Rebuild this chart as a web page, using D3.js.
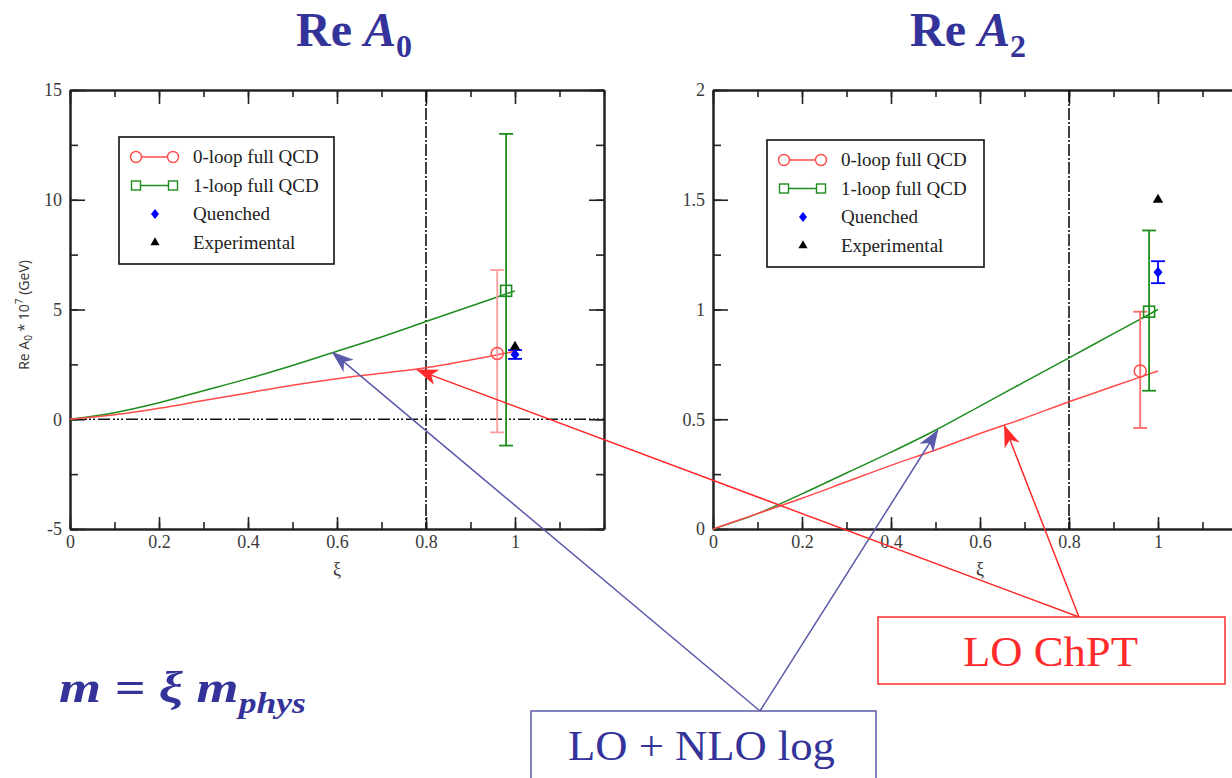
<!DOCTYPE html>
<html>
<head>
<meta charset="utf-8">
<script src="https://cdn.jsdelivr.net/npm/d3@7.9.0/dist/d3.min.js"></script>
<style>
  html, body { margin: 0; padding: 0; background: #fff; }
  svg { display: block; font-family: "Liberation Serif", "Times New Roman", serif; }
</style>
</head>
<body>
<svg id="chart" width="1232" height="778"></svg>
<script>
// ---- data ----
const xiGrid = [0, 0.1, 0.2, 0.3, 0.4, 0.5, 0.6, 0.7, 0.8, 0.9, 1.0];

// Re A0 (x 10^7 GeV)
const a0LoCurve  = [0, 0.2, 0.5, 0.85, 1.2, 1.55, 1.85, 2.1, 2.35, 2.7, 3.1];
const a0NloCurve = [0, 0.3, 0.75, 1.3, 1.85, 2.45, 3.1, 3.75, 4.45, 5.15, 5.85];
// [xi, value, low, high]
const a0ZeroLoop = [[0.96, 3.0, -0.6, 6.8]];
const a0OneLoop  = [[0.98, 5.85, -1.2, 13.0]];
const a0Quenched = [[1.0, 2.95, 2.75, 3.15]];
const a0Exp      = [[1.0, 3.3]];

// Re A2
const a2LoCurve  = [0, 0.07, 0.14, 0.215, 0.29, 0.36, 0.435, 0.505, 0.58, 0.65, 0.72];
const a2NloCurve = [0, 0.07, 0.16, 0.255, 0.35, 0.45, 0.56, 0.67, 0.78, 0.89, 1.0];
const a2ZeroLoop = [[0.96, 0.72, 0.46, 0.99]];
const a2OneLoop  = [[0.98, 0.99, 0.63, 1.36]];
const a2Quenched = [[1.0, 1.17, 1.12, 1.22]];
const a2Exp      = [[1.0, 1.5]];

const xTicks = [0, 0.2, 0.4, 0.6, 0.8, 1];
const xTickLabels = ["0", "0.2", "0.4", "0.6", "0.8", "1"];
const a0YTicks = [-5, 0, 5, 10, 15];
const a2YTicks = [0, 0.5, 1, 1.5, 2];
const legendLabels = ["0-loop full QCD", "1-loop full QCD", "Quenched", "Experimental"];

const svg = d3.select("#chart");
const RED = "#ff4a4a", PINK = "#ff9c9c", GREEN = "#1c8c1c", BLUE = "#0000ff";
const TITLE = "#33339a", ARROW_BLUE = "#5a5aaa", ARROW_RED = "#ff2a2a";

// stretch a text horizontally so that it spans the given width
function fitWidth(sel, width) {
  const b = sel.node().getBBox();
  const k = width / b.width;
  sel.attr("transform", `translate(${b.x},0) scale(${k},1) translate(${-b.x},0)`);
}

function drawPanel(o) {
  const x = d3.scaleLinear().domain([0, 1.2]).range([o.left, o.left + 534]);
  const y = d3.scaleLinear().domain(o.yDomain).range([529, 90]);
  const g = svg.append("g");

  // frame + ticks on four sides, pointing inward
  const minorX = d3.range(0, 1.21, 0.1);
  const addAxis = (axisFn, scale, vals, size, transform, labels, pad) => {
    const a = axisFn(scale).tickValues(vals).tickSize(size).tickSizeOuter(0)
      .tickPadding(pad || 6).tickFormat(labels ? (d, i) => labels[i] : "");
    const ag = g.append("g").attr("transform", transform).call(a);
    ag.select(".domain").attr("stroke-width", 2).attr("stroke", "#222");
    ag.selectAll(".tick line").attr("stroke-width", 1.6).attr("stroke", "#222");
    ag.selectAll("text").attr("font-size", 18).attr("fill", "#3a3a3a")
      .attr("font-family", "Liberation Serif");
    return ag;
  };
  const bottom = y.range()[0], top = y.range()[1];
  addAxis(d3.axisBottom, x, minorX, -7, `translate(0,${bottom})`);
  addAxis(d3.axisBottom, x, xTicks, -12, `translate(0,${bottom})`, xTickLabels, 6);
  addAxis(d3.axisTop, x, minorX, -7, `translate(0,${top})`);
  addAxis(d3.axisTop, x, xTicks, -14, `translate(0,${top})`);
  addAxis(d3.axisLeft, y, o.yMinor, -8, `translate(${o.left},0)`);
  addAxis(d3.axisLeft, y, o.yTicks, -15, `translate(${o.left},0)`, o.yTicks.map(String), 8);
  addAxis(d3.axisRight, y, o.yMinor, -8, `translate(${x(1.2)},0)`);
  addAxis(d3.axisRight, y, o.yTicks, -15, `translate(${x(1.2)},0)`);

  // reference lines
  g.append("line").attr("x1", x(0.8)).attr("x2", x(0.8)).attr("y1", top).attr("y2", bottom)
    .attr("stroke", "#111").attr("stroke-width", 1.6).attr("stroke-dasharray", "12,2,2,2");
  if (o.yDomain[0] < 0) {
    g.append("line").attr("x1", x(0)).attr("x2", x(1.2)).attr("y1", y(0)).attr("y2", y(0))
      .attr("stroke", "#111").attr("stroke-width", 1.6).attr("stroke-dasharray", "12,3,2,2,2,2,2,3");
  }

  // curves
  const line = d3.line().x((d, i) => x(xiGrid[i])).y(d => y(d)).curve(d3.curveMonotoneX);
  g.append("path").attr("d", line(o.nlo)).attr("fill", "none").attr("stroke", GREEN).attr("stroke-width", 1.5);
  g.append("path").attr("d", line(o.lo)).attr("fill", "none").attr("stroke", RED).attr("stroke-width", 1.5);

  // error bars
  const errBar = (data, color, cap) => {
    data.forEach(d => {
      g.append("line").attr("x1", x(d[0])).attr("x2", x(d[0])).attr("y1", y(d[2])).attr("y2", y(d[3]))
        .attr("stroke", color).attr("stroke-width", 1.8);
      [d[2], d[3]].forEach(v => g.append("line").attr("x1", x(d[0]) - cap).attr("x2", x(d[0]) + cap)
        .attr("y1", y(v)).attr("y2", y(v)).attr("stroke", color).attr("stroke-width", 1.8));
    });
  };
  errBar(o.zero, o.zeroErr, 7);
  errBar(o.one, GREEN, 7);
  errBar(o.quen, BLUE, 7);

  o.zero.forEach(d => g.append("circle").attr("cx", x(d[0])).attr("cy", y(d[1])).attr("r", 6)
    .attr("fill", "none").attr("stroke", RED).attr("stroke-width", 1.5));
  o.one.forEach(d => g.append("rect").attr("x", x(d[0]) - 5.5).attr("y", y(d[1]) - 5.5).attr("width", 11).attr("height", 11)
    .attr("fill", "none").attr("stroke", GREEN).attr("stroke-width", 1.6));
  o.quen.forEach(d => g.append("path").attr("transform", `translate(${x(d[0])},${y(d[1])})`)
    .attr("d", "M0,-5.5L4.5,0L0,5.5L-4.5,0Z").attr("fill", BLUE));
  o.exp.forEach(d => g.append("path").attr("transform", `translate(${x(d[0])},${y(d[1])})`)
    .attr("d", d3.symbol(d3.symbolTriangle, 48)()).attr("fill", "#000"));

  // legend
  const lg = g.append("g").attr("transform", `translate(${o.legend[0]},${o.legend[1]})`);
  lg.append("rect").attr("width", o.legendW).attr("height", 127).attr("fill", "#fff")
    .attr("stroke", "#111").attr("stroke-width", 1.6);
  legendLabels.forEach((t, i) => {
    const cy = 20 + i * 28.5;
    if (i < 2) {
      const c = i === 0 ? RED : GREEN;
      lg.append("line").attr("x1", 17).attr("x2", 54).attr("y1", cy).attr("y2", cy).attr("stroke", c).attr("stroke-width", 1.5);
      [17, 54].forEach(cx => {
        if (i === 0) lg.append("circle").attr("cx", cx).attr("cy", cy).attr("r", 5.5).attr("fill", "#fff").attr("stroke", c).attr("stroke-width", 1.4);
        else lg.append("rect").attr("x", cx - 4.5).attr("y", cy - 4.5).attr("width", 9).attr("height", 9).attr("fill", "#fff").attr("stroke", c).attr("stroke-width", 1.4);
      });
    } else if (i === 2) {
      lg.append("path").attr("transform", `translate(36,${cy})`).attr("d", "M0,-5L4,0L0,5L-4,0Z").attr("fill", BLUE);
    } else {
      lg.append("path").attr("transform", `translate(36,${cy})`).attr("d", d3.symbol(d3.symbolTriangle, 36)()).attr("fill", "#000");
    }
    lg.append("text").attr("x", 74).attr("y", cy + 6).attr("font-size", 19).attr("fill", "#222").text(t);
  });

  // xi label
  g.append("text").attr("x", x(0.6)).attr("y", 575).attr("text-anchor", "middle")
    .attr("font-size", 18).attr("fill", "#333").text("ξ");

  // title
  const tt = svg.append("text").attr("x", o.titleX).attr("y", 46).attr("text-anchor", "middle")
    .attr("font-size", 48).attr("font-weight", "bold").attr("fill", TITLE);
  tt.append("tspan").text("Re ");
  tt.append("tspan").attr("font-style", "italic").text("A");
  tt.append("tspan").attr("font-size", 32).attr("dy", 11).text(o.sub);

  return { x, y };
}

const p0 = drawPanel({
  left: 70, yDomain: [-5, 15], yTicks: a0YTicks, yMinor: d3.range(-5, 15.1, 2.5),
  lo: a0LoCurve, nlo: a0NloCurve, zero: a0ZeroLoop, one: a0OneLoop, quen: a0Quenched, exp: a0Exp,
  zeroErr: PINK, legend: [119, 137], legendW: 215, titleX: 354, sub: "0"
});
const p2 = drawPanel({
  left: 713, yDomain: [0, 2], yTicks: a2YTicks, yMinor: d3.range(0, 2.01, 0.25),
  lo: a2LoCurve, nlo: a2NloCurve, zero: a2ZeroLoop, one: a2OneLoop, quen: a2Quenched, exp: a2Exp,
  zeroErr: "#ff6a6a", legend: [767, 140], legendW: 217, titleX: 968, sub: "2"
});

// y label of left panel (sans serif in the original)
const yLab = svg.append("text").attr("transform", "translate(29,315) rotate(-90)")
  .attr("text-anchor", "middle").attr("font-size", 14).attr("fill", "#333")
  .attr("font-family", "Open Sans, DejaVu Sans, sans-serif");
yLab.append("tspan").text("Re A");
yLab.append("tspan").attr("font-size", 10).attr("dy", 3).text("0");
yLab.append("tspan").attr("dy", -3).text(" * 10");
yLab.append("tspan").attr("font-size", 10).attr("dy", -6).text("7");
yLab.append("tspan").attr("dy", 6).text(" (GeV)");

// annotation arrows
const defs = svg.append("defs");
[["headBlue", ARROW_BLUE], ["headRed", ARROW_RED]].forEach(([id, c]) => {
  defs.append("marker").attr("id", id).attr("viewBox", "0 0 22 16").attr("refX", 21).attr("refY", 8)
    .attr("markerWidth", 22).attr("markerHeight", 16).attr("markerUnits", "userSpaceOnUse").attr("orient", "auto")
    .append("path").attr("d", "M0,0L22,8L0,16L6,8Z").attr("fill", c);
});
const arrow = (x1, y1, x2, y2, c, head) => svg.append("line").attr("x1", x1).attr("y1", y1).attr("x2", x2).attr("y2", y2)
  .attr("stroke", c).attr("stroke-width", 1.5).attr("marker-end", `url(#${head})`);

arrow(760, 711, p0.x(0.59), p0.y(3.05), ARROW_BLUE, "headBlue");
arrow(760, 711, p2.x(0.505), p2.y(0.45), ARROW_BLUE, "headBlue");
arrow(1079, 617, p0.x(0.78), p0.y(2.25), ARROW_RED, "headRed");
arrow(1079, 617, p2.x(0.655), p2.y(0.47), ARROW_RED, "headRed");

// boxes
svg.append("rect").attr("x", 531).attr("y", 711).attr("width", 345).attr("height", 80)
  .attr("fill", "#fff").attr("stroke", ARROW_BLUE).attr("stroke-width", 1.5);
const nloText = svg.append("text").attr("x", 568).attr("y", 760).attr("font-size", 42)
  .attr("fill", TITLE).text("LO + NLO log");
fitWidth(nloText, 267);
svg.append("rect").attr("x", 878).attr("y", 617).attr("width", 347).attr("height", 67)
  .attr("fill", "#fff").attr("stroke", ARROW_RED).attr("stroke-width", 1.5);
const loText = svg.append("text").attr("x", 963).attr("y", 666).attr("font-size", 42)
  .attr("fill", ARROW_RED).text("LO ChPT");
fitWidth(loText, 175);

// m = xi m_phys
const mt = svg.append("text").attr("x", 59).attr("y", 702).attr("font-size", 44).attr("font-style", "italic")
  .attr("font-weight", "bold").attr("fill", TITLE);
mt.append("tspan").text("m = ξ m");
mt.append("tspan").attr("font-size", 29).attr("dy", 11).text("phys");
fitWidth(mt, 247);
</script>
</body>
</html>
